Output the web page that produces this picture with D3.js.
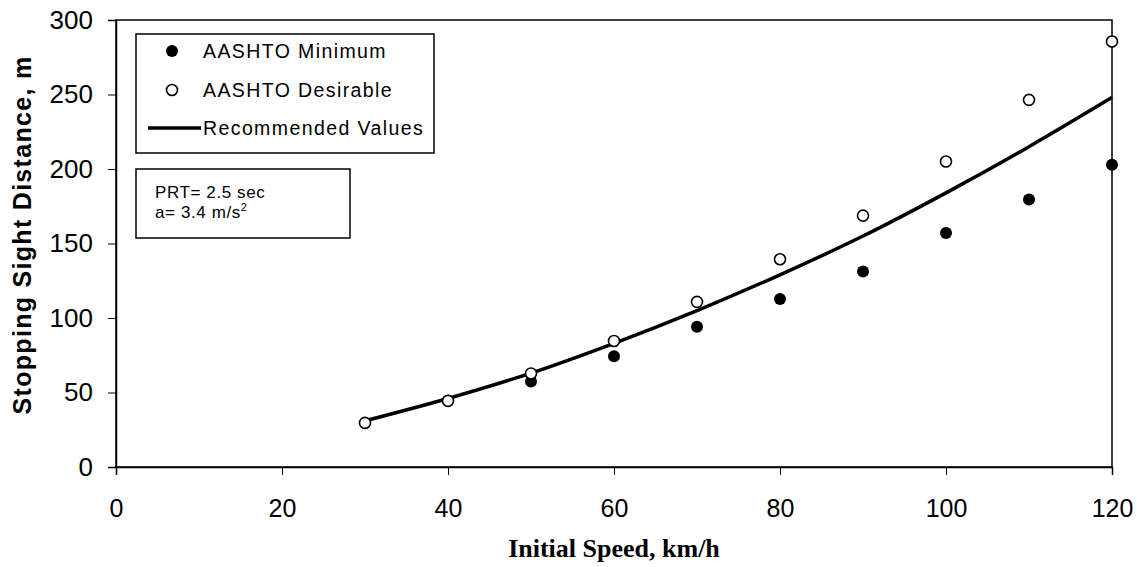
<!DOCTYPE html>
<html>
<head>
<meta charset="utf-8">
<script src="https://cdn.jsdelivr.net/npm/d3@7"></script>
<style>
  html, body { margin: 0; padding: 0; background: #fff; }
  #chart { width: 1142px; height: 567px; }
</style>
</head>
<body>
<div id="chart"></div>
<script>
const speeds = [30, 40, 50, 60, 70, 80, 90, 100, 110, 120];
const aashtoMinimum = [29.6, 44.4, 57.4, 74.3, 94.1, 112.8, 131.2, 157.0, 179.5, 202.9];
const aashtoDesirable = [29.6, 44.4, 62.8, 84.6, 110.8, 139.4, 168.7, 205.0, 246.4, 285.6];
const recommended = [31, 46, 63, 83, 105, 129, 155, 184, 215, 248];
const xTicks = [0, 20, 40, 60, 80, 100, 120];
const yTicks = [0, 50, 100, 150, 200, 250, 300];
const legendLabels = ["AASHTO Minimum", "AASHTO Desirable", "Recommended Values"];
const noteLines = ["PRT= 2.5 sec", "a= 3.4 m/s"];

(function() {
  const width = 1142;
  const height = 567;
  const margin = { top: 20, right: 30, bottom: 100, left: 116 };
  const sans = "'Liberation Sans', Arial, sans-serif";
  const serif = "'Liberation Serif', 'Times New Roman', serif";

  const svg = d3.select("#chart")
    .append("svg")
    .attr("width", width)
    .attr("height", height);

  const x = d3.scaleLinear().domain([0, 120]).range([margin.left, width - margin.right]);
  const y = d3.scaleLinear().domain([0, 300]).range([height - margin.bottom, margin.top]);

  // frame
  svg.append("rect")
    .attr("x", x(0)).attr("y", y(300))
    .attr("width", x(120) - x(0)).attr("height", y(0) - y(300))
    .attr("fill", "none").attr("stroke", "#000").attr("stroke-width", 1.5);

  const xAxis = svg.append("g")
    .attr("transform", `translate(0, ${y(0)})`)
    .call(d3.axisBottom(x).tickValues(xTicks).tickSize(8).tickPadding(24));
  xAxis.selectAll("text").attr("font-size", 25).attr("font-family", sans).attr("fill", "#000");

  const yAxis = svg.append("g")
    .attr("transform", `translate(${x(0)}, 0)`)
    .call(d3.axisLeft(y).tickValues(yTicks).tickSize(8).tickPadding(15));
  yAxis.selectAll("text").attr("font-size", 26).attr("font-family", sans).attr("fill", "#000");

  svg.selectAll(".domain").attr("stroke", "#000").attr("stroke-width", 1.5);
  svg.selectAll(".tick line").attr("stroke", "#000").attr("stroke-width", 1);

  svg.append("text")
    .attr("transform", "translate(31, 235) rotate(-90)")
    .attr("text-anchor", "middle")
    .attr("font-family", sans).attr("font-weight", "bold").attr("font-size", 25)
    .attr("letter-spacing", 1.3)
    .text("Stopping Sight Distance, m");

  svg.append("text")
    .attr("x", (x(0) + x(120)) / 2).attr("y", 557)
    .attr("text-anchor", "middle")
    .attr("font-family", serif).attr("font-weight", "bold").attr("font-size", 26)
    .text("Initial Speed, km/h");

  const rec = speeds.map((s, i) => ({ s, v: recommended[i] }));
  const line = d3.line().x(d => x(d.s)).y(d => y(d.v)).curve(d3.curveMonotoneX);

  svg.append("path")
    .datum(rec)
    .attr("fill", "none")
    .attr("stroke", "#000")
    .attr("stroke-width", 3.5)
    .attr("d", line);

  svg.append("g").selectAll("circle")
    .data(speeds.map((s, i) => ({ s, v: aashtoMinimum[i] })))
    .join("circle")
    .attr("cx", d => x(d.s)).attr("cy", d => y(d.v))
    .attr("r", 6).attr("fill", "#000");

  svg.append("g").selectAll("circle")
    .data(speeds.map((s, i) => ({ s, v: aashtoDesirable[i] })))
    .join("circle")
    .attr("cx", d => x(d.s)).attr("cy", d => y(d.v))
    .attr("r", 5.5).attr("fill", "#fff").attr("stroke", "#000").attr("stroke-width", 1.6);

  // legend
  const legend = svg.append("g");
  legend.append("rect")
    .attr("x", 136).attr("y", 34).attr("width", 298).attr("height", 119)
    .attr("fill", "#fff").attr("stroke", "#000").attr("stroke-width", 1.5);
  const rowY = [51, 90, 128];
  legend.append("circle").attr("cx", 172).attr("cy", rowY[0]).attr("r", 6).attr("fill", "#000");
  legend.append("circle").attr("cx", 172).attr("cy", rowY[1]).attr("r", 5.5)
    .attr("fill", "#fff").attr("stroke", "#000").attr("stroke-width", 1.6);
  legend.append("line").attr("x1", 148).attr("x2", 201).attr("y1", rowY[2]).attr("y2", rowY[2])
    .attr("stroke", "#000").attr("stroke-width", 3.5);
  legend.selectAll("text.lab")
    .data(legendLabels)
    .join("text")
    .attr("class", "lab")
    .attr("x", 203).attr("y", (d, i) => rowY[i]).attr("dy", "0.35em")
    .attr("font-family", sans).attr("font-size", 19.5).attr("letter-spacing", 1.4)
    .text(d => d);

  // parameter note
  const note = svg.append("g");
  note.append("rect")
    .attr("x", 136).attr("y", 169).attr("width", 214).attr("height", 69)
    .attr("fill", "#fff").attr("stroke", "#000").attr("stroke-width", 1.5);
  note.append("text")
    .attr("x", 155).attr("y", 198)
    .attr("font-family", sans).attr("font-size", 17).attr("letter-spacing", 0.6)
    .text(noteLines[0]);
  const t2 = note.append("text")
    .attr("x", 155).attr("y", 218)
    .attr("font-family", sans).attr("font-size", 17).attr("letter-spacing", 0.6)
    .text(noteLines[1]);
  t2.append("tspan").attr("dy", -7).attr("font-size", 11).text("2");
})();
</script>
</body>
</html>
